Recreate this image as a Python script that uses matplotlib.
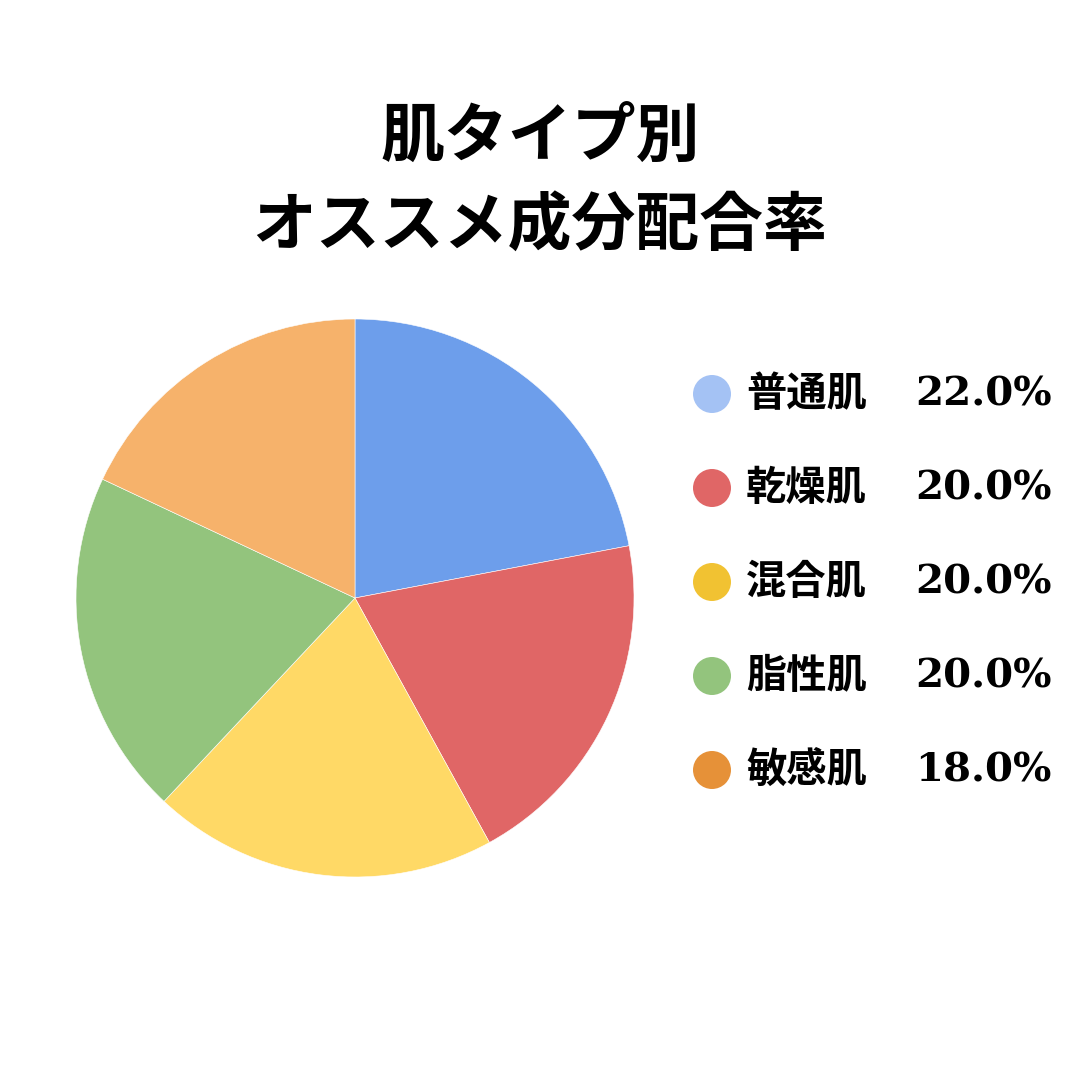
import matplotlib.pyplot as plt
from matplotlib.patches import Circle

# data
labels = ['普通肌', '乾燥肌', '混合肌', '脂性肌', '敏感肌']
shares = [22.0, 20.0, 20.0, 20.0, 18.0]
pie_colors = ['#6d9eeb', '#e06666', '#ffd966', '#93c47d', '#f6b26b']
legend_colors = ['#a4c2f4', '#e06666', '#f1c232', '#93c47d', '#e69138']
title = '肌タイプ別\nオススメ成分配合率'

jp = ['Noto Sans CJK JP', 'DejaVu Sans']

fig = plt.figure(figsize=(10.8, 10.8), dpi=100)
ax = fig.add_axes([0, 0, 1, 1])

ax.pie(shares, colors=pie_colors, startangle=90, counterclock=False,
       center=(355, 1080 - 598), radius=279,
       wedgeprops=dict(edgecolor='white', linewidth=0.4), frame=True)
ax.set_xlim(0, 1080)
ax.set_ylim(0, 1080)
ax.set_aspect('equal')
ax.axis('off')

ax.text(540, 1080 - 182, title, ha='center', va='center', fontsize=46,
        fontweight='bold', family=jp, linespacing=1.42)

y0 = 1080 - 394
step = 94
for i, (lab, val) in enumerate(zip(labels, shares)):
    y = y0 - i * step
    ax.add_patch(Circle((712, y), 19, color=legend_colors[i], lw=0))
    ax.text(746, y, lab, ha='left', va='center', fontsize=29,
            fontweight='bold', family=jp)
    ax.text(1052, y, f'{val:.1f}%', ha='right', va='center', fontsize=29,
            fontweight='bold', family='DejaVu Serif')

fig.savefig('out.png', dpi=100, facecolor='white')
